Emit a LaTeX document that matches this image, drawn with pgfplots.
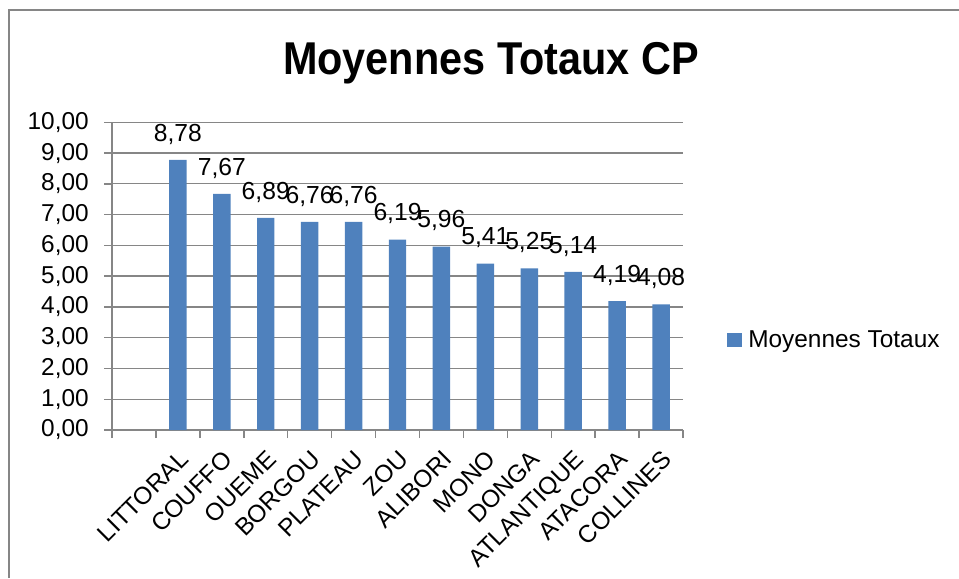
\documentclass[border=0pt]{standalone}
\usepackage{pgfplots}
\pgfplotsset{compat=1.18}
\usepackage{fontspec}
\setmainfont{Liberation Sans}
\definecolor{barblue}{HTML}{4F81BD}
\definecolor{gridgray}{HTML}{868686}
\begin{document}
\begin{tikzpicture}
\path[use as bounding box] (0,0) rectangle (719.25pt,-433.5pt);
\draw[gridgray, line width=1.1pt] (6.75pt,-433.5pt) -- (6.75pt,-7.5pt) -- (719.25pt,-7.5pt);
\begin{axis}[
  at={(84pt,-322.5pt)}, anchor=south west,
  scale only axis, width=428.25pt, height=230.8pt,
  clip=false,
  ybar, bar width=13.1pt,
  ymin=0, ymax=10, ytick={0,1,...,10},
  xmin=-0.5, xmax=12.5,
  xtick={1,...,12},
  xticklabels={LITTORAL,COUFFO,OUEME,BORGOU,PLATEAU,ZOU,ALIBORI,MONO,DONGA,ATLANTIQUE,ATACORA,COLLINES},
  minor xtick={-0.5,0.5,...,12.5},
  axis lines*=left,
  axis line style={gridgray, line width=1.1pt},
  tick align=outside,
  major tick length=6pt, minor tick length=6pt,
  tick style={gridgray, line width=1.1pt},
  major x tick style={draw=none},
  ymajorgrids, grid style={gridgray, line width=1pt},
  /pgf/number format/assume math mode=true,
  tick label style={font=\fontsize{18.3}{21}\selectfont, inner sep=0pt},
  yticklabel style={anchor=east, xshift=-11.25pt,
    /pgf/number format/fixed, /pgf/number format/fixed zerofill,
    /pgf/number format/precision=2, /pgf/number format/use comma},
  xticklabel style={yshift=-8pt, xshift=0pt, rotate=45, anchor=north east},
  nodes near coords={\pgfmathprintnumber[fixed,fixed zerofill,precision=2,use comma,assume math mode=true]{\pgfplotspointmeta}},
  every node near coord/.append style={font=\fontsize{18.5}{21}\selectfont, anchor=base, inner sep=0pt, yshift=14pt, black},
  legend style={at={(1.076,0.2925)}, anchor=west, draw=none, fill=none, inner sep=0pt,
    font=\fontsize{18.3}{21}\selectfont,
    /tikz/every odd column/.append style={column sep=3pt}},
  legend image code/.code={\fill[barblue] (0pt,-5.6pt) rectangle (11.25pt,5.6pt);},
]
\addplot[fill=barblue, draw=none] coordinates {
  (1,8.78) (2,7.67) (3,6.89) (4,6.76) (5,6.76) (6,6.19)
  (7,5.96) (8,5.41) (9,5.25) (10,5.14) (11,4.19) (12,4.08)};
\addlegendentry{Moyennes Totaux}
\node[anchor=base, font=\bfseries\fontsize{34.5}{40}\selectfont, inner sep=0pt]
  at (rel axis cs:0.6637,1.1537) {\scalebox{0.9}[1]{Moyennes Totaux CP}};
\end{axis}
\end{tikzpicture}
\end{document}
